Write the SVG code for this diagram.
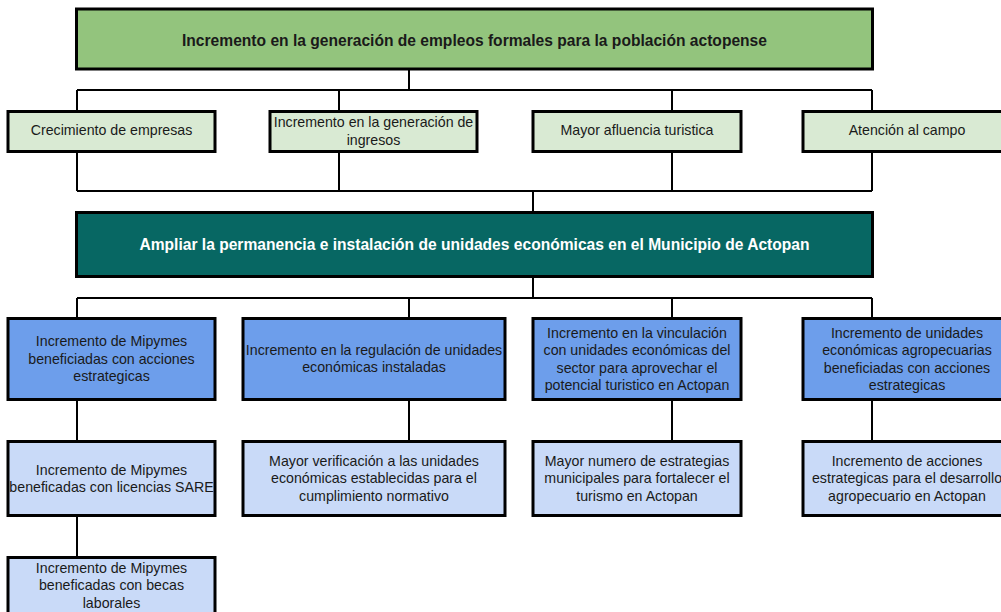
<svg xmlns="http://www.w3.org/2000/svg" width="1001" height="612" viewBox="0 0 1001 612">
<style>
.box{stroke:#000;stroke-width:3}
.goal{fill:#93c47d}
.eff{fill:#d9ead3}
.purp{fill:#076763}
.comp{fill:#6d9eeb}
.act{fill:#c9daf8}
text{font-family:"Liberation Sans",Arial,sans-serif;font-size:14.2px;fill:#1a1a1a;text-anchor:middle}
.b{font-weight:bold;font-size:15.6px}
.w{fill:#fff}
.con{fill:none;stroke:#000;stroke-width:2}
</style>
<rect width="1001" height="612" fill="#fff"/>
<g id="connectors">
<path class="con" d="M409 70V90M77 90H872M77 90V111M339 90V111M672 90V111M872 90V111"/>
<path class="con" d="M77 152V191M339 152V191M672 152V191M872 152V191M77 191H872M533 191V212"/>
<path class="con" d="M533 277V298M77 298H872M77 298V318M409 298V318M672 298V318M872 298V318"/>
<path class="con" d="M77 400V441M409 400V441M672 400V441M872 400V441M77 516V557"/>
</g>
<g id="goal">
<rect class="box goal" x="76.5" y="9" width="796" height="60"/>
<text class="b" x="474.5" y="45.5">Incremento en la generación de empleos formales para la población actopense</text>
</g>
<g id="effect1">
<rect class="box eff" x="8" y="111.5" width="207" height="40"/>
<text x="111.5" y="135">Crecimiento de empresas</text>
</g>
<g id="effect2">
<rect class="box eff" x="270" y="111.5" width="207" height="40"/>
<text x="373.5" y="127">Incremento en la generación de</text>
<text x="373.5" y="144.5">ingresos</text>
</g>
<g id="effect3">
<rect class="box eff" x="533" y="111.5" width="208" height="40"/>
<text x="637" y="135">Mayor afluencia turistica</text>
</g>
<g id="effect4">
<rect class="box eff" x="803" y="111.5" width="208" height="40"/>
<text x="907" y="135">Atención al campo</text>
</g>
<g id="purpose">
<rect class="box purp" x="76.5" y="212.5" width="796" height="64"/>
<text class="b w" x="474.5" y="249.5">Ampliar la permanencia e instalación de unidades económicas en el Municipio de Actopan</text>
</g>
<g id="comp1">
<rect class="box comp" x="8" y="318.5" width="207" height="81"/>
<text x="111.5" y="346">Incremento de Mipymes</text>
<text x="111.5" y="363.5">beneficiadas con acciones</text>
<text x="111.5" y="381">estrategicas</text>
</g>
<g id="comp2">
<rect class="box comp" x="243" y="318.5" width="262" height="81"/>
<text x="374" y="354.5">Incremento en la regulación de unidades</text>
<text x="374" y="372">económicas instaladas</text>
</g>
<g id="comp3">
<rect class="box comp" x="533" y="318.5" width="208" height="81"/>
<text x="637" y="337.5">Incremento en la vinculación</text>
<text x="637" y="355">con unidades económicas del</text>
<text x="637" y="372.5">sector para aprovechar el</text>
<text x="637" y="390">potencial turistico en Actopan</text>
</g>
<g id="comp4">
<rect class="box comp" x="803" y="318.5" width="208" height="81"/>
<text x="907" y="337.5">Incremento de unidades</text>
<text x="907" y="355">económicas agropecuarias</text>
<text x="907" y="372.5">beneficiadas con acciones</text>
<text x="907" y="390">estrategicas</text>
</g>
<g id="act1">
<rect class="box act" x="8" y="441.5" width="207" height="74"/>
<text x="111.5" y="474.5">Incremento de Mipymes</text>
<text x="111.5" y="492">beneficadas con licencias SARE</text>
</g>
<g id="act2">
<rect class="box act" x="243" y="441.5" width="262" height="74"/>
<text x="374" y="465.5">Mayor verificación a las unidades</text>
<text x="374" y="483">económicas establecidas para el</text>
<text x="374" y="500.5">cumplimiento normativo</text>
</g>
<g id="act3">
<rect class="box act" x="533" y="441.5" width="208" height="74"/>
<text x="637" y="465.5">Mayor numero de estrategias</text>
<text x="637" y="483">municipales para fortalecer el</text>
<text x="637" y="500.5">turismo en Actopan</text>
</g>
<g id="act4">
<rect class="box act" x="803" y="441.5" width="208" height="74"/>
<text x="907" y="465.5">Incremento de acciones</text>
<text x="907" y="483">estrategicas para el desarrollo</text>
<text x="907" y="500.5">agropecuario en Actopan</text>
</g>
<g id="act5">
<rect class="box act" x="8" y="557.5" width="207" height="70"/>
<text x="111.5" y="572.5">Incremento de Mipymes</text>
<text x="111.5" y="590">beneficadas con becas</text>
<text x="111.5" y="607.5">laborales</text>
</g>
</svg>
